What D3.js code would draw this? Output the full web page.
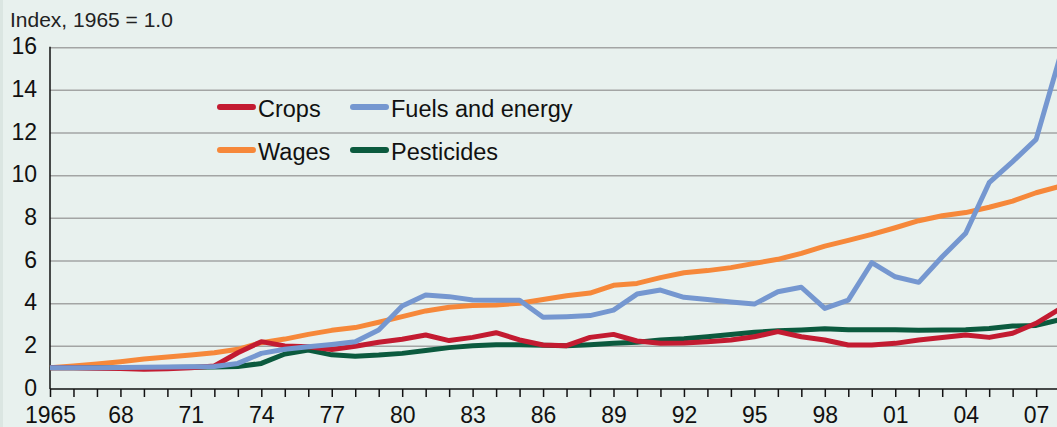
<!DOCTYPE html>
<html><head><meta charset="utf-8">
<script src="https://cdn.jsdelivr.net/npm/d3@7"></script>
<style>
html,body{margin:0;padding:0;background:#e8f1ee;}
svg{display:block;font-family:"Liberation Sans",Arial,Helvetica,sans-serif;}
</style></head>
<body><svg id="c" width="1057" height="427"></svg>
<script>
const years = d3.range(1965, 2009);
const crops = [1.0,1.0,0.97,0.96,0.93,0.95,1.0,1.08,1.7,2.22,2.02,1.98,1.85,2.0,2.19,2.33,2.53,2.27,2.42,2.64,2.3,2.06,2.03,2.42,2.56,2.25,2.14,2.16,2.22,2.3,2.45,2.69,2.45,2.3,2.06,2.06,2.14,2.3,2.41,2.53,2.42,2.61,3.08,3.75];
const fuels = [1.0,1.0,1.0,1.01,1.02,1.03,1.04,1.05,1.2,1.67,1.86,1.98,2.09,2.22,2.77,3.89,4.41,4.33,4.17,4.16,4.16,3.36,3.39,3.44,3.7,4.45,4.64,4.3,4.2,4.08,3.98,4.56,4.77,3.78,4.17,5.92,5.26,5.0,6.2,7.3,9.67,10.66,11.7,15.5];
const wages = [1.0,1.08,1.17,1.28,1.41,1.5,1.59,1.7,1.86,2.17,2.34,2.56,2.75,2.88,3.13,3.39,3.66,3.83,3.91,3.94,4.02,4.2,4.37,4.5,4.86,4.95,5.22,5.45,5.55,5.69,5.89,6.08,6.36,6.7,6.97,7.25,7.56,7.89,8.12,8.27,8.52,8.81,9.2,9.5];
const pesticides = [1.0,1.0,1.0,1.0,1.0,1.01,1.02,1.03,1.05,1.2,1.64,1.83,1.6,1.54,1.59,1.67,1.8,1.94,2.03,2.08,2.08,2.05,2.03,2.08,2.14,2.19,2.3,2.36,2.45,2.56,2.66,2.73,2.77,2.83,2.78,2.78,2.78,2.75,2.77,2.78,2.84,2.95,2.98,3.25];
const seriesNames = ["Crops","Fuels and energy","Wages","Pesticides"];
const seriesColors = ["#c31b31","#7597d0","#f6883a","#0b5a3e"];
const yTicks = [0,2,4,6,8,10,12,14,16];
const xTickYears = d3.range(1965, 2008, 3);
const yTitle = "Index, 1965 = 1.0";

const svg = d3.select("#c");
svg.append("rect").attr("x",0).attr("y",0).attr("width",1057).attr("height",427).attr("fill","#e8f1ee");
svg.append("rect").attr("x",0).attr("y",0).attr("width",3).attr("height",427).attr("fill","#dbe6e2");

const x = d3.scaleLinear().domain([1965, 2008]).range([50, 1059.6]);
const y = d3.scaleLinear().domain([0, 16]).range([389, 47.7]);

// gridlines
svg.append("g").selectAll("line").data(yTicks.filter(d=>d>0)).join("line")
  .attr("x1",50).attr("x2",1060).attr("y1",d=>y(d)).attr("y2",d=>y(d))
  .attr("stroke","#a3a5a4").attr("stroke-width",1.5);

// y labels
svg.append("g").selectAll("text").data(yTicks).join("text")
  .attr("x",37).attr("y",d=>y(d)+6.5).attr("text-anchor","end")
  .attr("font-size",23).attr("fill","#111").text(d=>d);

svg.append("text").attr("x",10).attr("y",27).attr("font-size",21).attr("fill","#222").text(yTitle);

// x axis
const xAxis = d3.axisBottom(x).tickValues(years).tickSize(8).tickFormat(d=> xTickYears.includes(d) ? (d===1965 ? "1965" : String(d%100).padStart(2,"0")) : "");
const gx = svg.append("g").attr("transform","translate(0,389)").call(xAxis);
gx.select(".domain").attr("stroke","#111").attr("stroke-width",1.5).attr("d","M50,0H1060");
gx.selectAll(".tick line").attr("stroke","#111").attr("stroke-width",1.5);
gx.selectAll(".tick text").attr("font-size",23).attr("fill","#111").attr("y",17.5).attr("dy","0.71em")
  .attr("font-family","'Liberation Sans',Arial,sans-serif");

// y axis line
svg.append("line").attr("x1",50).attr("x2",50).attr("y1",y(16)-1).attr("y2",389).attr("stroke","#111").attr("stroke-width",1.5);

// lines
const line = d3.line().x((d,i)=>x(years[i])).y(d=>y(d));
const allSeries = [wages, pesticides, crops, fuels];
const allColors = [seriesColors[2], seriesColors[3], seriesColors[0], seriesColors[1]];
svg.append("g").selectAll("path").data(allSeries).join("path")
  .attr("d", d=>line(d)).attr("fill","none")
  .attr("stroke",(d,i)=>allColors[i]).attr("stroke-width",5)
  .attr("stroke-linejoin","round");

// legend
const legendPos = [[220,107],[353,107],[220,150],[353,150]];
const lg = svg.append("g");
seriesNames.forEach((n,i)=>{
  const [lx,ly] = legendPos[i];
  lg.append("line").attr("x1",lx).attr("x2",lx+33).attr("y1",ly).attr("y2",ly)
    .attr("stroke",seriesColors[i]).attr("stroke-width",6).attr("stroke-linecap","round");
  lg.append("text").attr("x",lx+38).attr("y",ly+9.5).attr("font-size",23.5).attr("fill","#111").text(n);
});
</script></body></html>
